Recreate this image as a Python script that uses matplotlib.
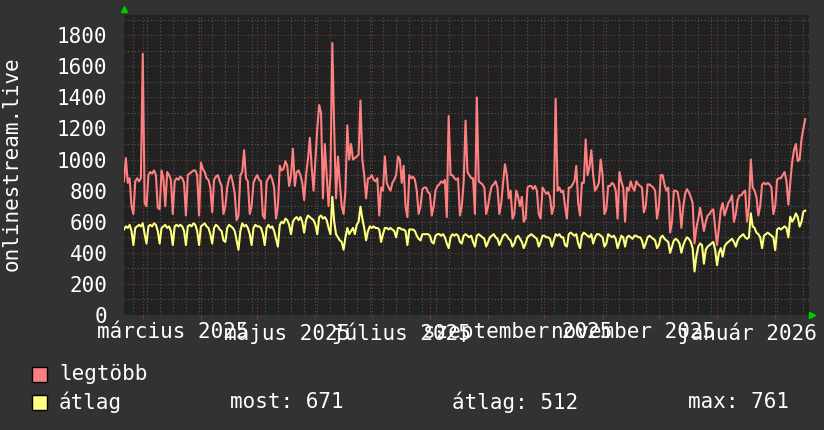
import numpy as np
import pandas as pd
import matplotlib
matplotlib.use("Agg")
import matplotlib.pyplot as plt
import matplotlib.dates as mdates
from matplotlib.patches import Rectangle

# napi adatok, 2025-02-19-tol, hetente egy sor
legtobb = [
    860, 1010, 850, 880, 700, 650, 860,
    880, 860, 880, 1680, 720, 700, 900,
    920, 910, 930, 900, 690, 680, 930,
    880, 700, 920, 900, 870, 650, 860,
    880, 870, 890, 880, 850, 640, 900,
    910, 920, 930, 930, 900, 640, 980,
    940, 920, 880, 870, 820, 660, 870,
    890, 900, 860, 830, 650, 700, 820,
    880, 900, 850, 780, 610, 640, 900,
    920, 1060, 880, 860, 650, 700, 850,
    880, 900, 870, 860, 640, 620, 860,
    880, 900, 870, 820, 620, 700, 960,
    930, 940, 990, 960, 830, 900, 1070,
    830, 920, 930, 900, 850, 740, 900,
    1000, 1140, 950, 800, 1000, 1200, 1350,
    1300, 750, 1100, 900, 700, 900, 1750,
    1200, 750, 1020, 850, 700, 650, 800,
    1220, 1000, 1100, 1000, 1010, 1020, 1030,
    1380, 1000, 900, 750, 880, 880, 900,
    870, 860, 880, 640, 820, 800, 1020,
    850, 820, 800, 850, 870, 900, 1020,
    1000, 850, 960, 700, 630, 900, 880,
    890, 870, 800, 650, 700, 810, 820,
    820, 790, 780, 640, 700, 800, 830,
    840, 860, 850, 870, 630, 1280, 900,
    900, 880, 870, 880, 640, 700, 860,
    1250, 920, 900, 880, 880, 650, 1400,
    860, 850, 840, 820, 650, 700, 780,
    830, 840, 860, 820, 650, 720, 850,
    970, 900, 750, 800, 620, 650, 800,
    760, 700, 760, 600, 620, 820, 830,
    830, 810, 830, 800, 650, 620, 820,
    800, 780, 790, 760, 650, 700, 1390,
    800, 820, 790, 800, 700, 620, 820,
    820, 840, 860, 960, 720, 640, 850,
    850, 1130, 900, 950, 1060, 900, 800,
    820, 850, 1000, 900, 650, 680, 830,
    830, 850, 840, 800, 620, 920, 860,
    820, 600, 820, 800, 860, 820, 800,
    860, 840, 830, 820, 660, 700, 840,
    840, 830, 820, 800, 620, 700, 900,
    900, 840, 800, 820, 530, 600, 800,
    800, 790, 720, 560, 700, 780, 810,
    790, 760, 720, 460, 560, 620, 690,
    620, 540, 600, 640, 650, 670, 680,
    560, 450, 560, 680, 720, 640, 680,
    720, 740, 770, 600, 650, 740, 770,
    770, 790, 800, 600, 700, 1000, 820,
    800, 760, 640, 700, 840, 850, 840,
    850, 840, 820, 650, 700, 870, 880,
    880, 900, 920, 860, 710, 850, 980,
    1060, 1100, 990, 1000, 1130, 1200, 1260,
]

atlag = [
    550, 570, 560, 580, 540, 450, 560,
    570, 580, 570, 590, 520, 460, 570,
    580, 570, 590, 580, 540, 460, 560,
    570, 580, 560, 570, 540, 450, 570,
    580, 570, 580, 570, 540, 450, 570,
    580, 570, 590, 580, 540, 450, 570,
    580, 590, 570, 560, 520, 460, 560,
    580, 570, 550, 540, 480, 470, 560,
    580, 570, 560, 540, 480, 420, 540,
    590, 570, 580, 560, 520, 450, 560,
    580, 570, 570, 560, 520, 450, 560,
    580, 560, 570, 540, 490, 440, 580,
    600, 590, 620, 610, 580, 520, 600,
    620, 630, 610, 630, 600, 530, 610,
    640, 630, 620, 610, 580, 520, 630,
    640, 620, 630, 610, 560, 520, 761,
    600, 520, 500, 480, 470, 420, 500,
    560, 520, 540, 560, 520, 580, 600,
    697, 620, 560, 480, 540, 570, 560,
    570, 560, 560, 550, 470, 520, 560,
    560, 550, 560, 550, 540, 500, 560,
    560, 550, 550, 540, 450, 550, 550,
    550, 540, 510, 490, 480, 520, 520,
    520, 520, 510, 470, 460, 510, 520,
    520, 510, 520, 500, 460, 430, 500,
    520, 510, 520, 510, 470, 460, 510,
    520, 510, 500, 510, 470, 440, 510,
    520, 510, 500, 490, 440, 470, 500,
    510, 520, 500, 490, 450, 480, 510,
    520, 510, 490, 480, 440, 460, 500,
    510, 490, 470, 430, 460, 500, 510,
    520, 510, 500, 490, 440, 470, 510,
    510, 500, 500, 490, 440, 480, 520,
    510, 520, 500, 500, 450, 440, 520,
    530, 520, 510, 520, 460, 430, 510,
    530, 520, 510, 500, 520, 460, 500,
    520, 520, 510, 500, 440, 460, 520,
    510, 500, 510, 490, 430, 470, 510,
    500, 440, 500, 510, 500, 490, 510,
    510, 500, 500, 480, 430, 460, 500,
    510, 500, 490, 480, 430, 450, 500,
    510, 490, 480, 470, 400, 440, 480,
    490, 480, 460, 400, 450, 480, 500,
    490, 470, 430, 280, 380, 440, 460,
    450, 330, 420, 440, 450, 460, 470,
    420, 320, 400, 430, 375, 440, 460,
    470, 480, 490, 470, 440, 480, 500,
    510, 520, 500, 490, 500, 654, 570,
    560, 530, 520, 500, 430, 510, 520,
    530, 520, 510, 500, 418, 550, 560,
    550, 560, 570, 560, 500, 632, 600,
    620, 654, 630, 568, 600, 665, 671,
]

honap_cimkek = ["március 2025", "május 2025", "július 2025",
                "szeptember 2025", "november 2025", "január 2026"]
honap_datumok = ["2025-03-01", "2025-05-01", "2025-07-01",
                 "2025-09-01", "2025-11-01", "2026-01-01"]

napok = pd.date_range("2025-02-19", periods=len(legtobb), freq="D")

plt.rcParams["font.family"] = ["DejaVu Sans Mono"]
plt.rcParams["font.size"] = 15

hatter = "#323232"
vaszon = "#212121"
piros = "#ff8080"
sarga = "#ffff80"

fig = plt.figure(figsize=(8.24, 4.30), dpi=100, facecolor=hatter)
ax = fig.add_axes([124 / 824, 115 / 430, 685 / 824, 300 / 430])
ax.set_facecolor(vaszon)

ax.plot(napok, legtobb, color=piros, lw=1.5, zorder=3)
ax.plot(napok, atlag, color=sarga, lw=1.5, zorder=4)

ax.set_xlim(pd.Timestamp("2025-02-19"), pd.Timestamp("2026-02-19"))
ax.set_ylim(0, 1930)

# racs
ax.yaxis.set_major_locator(plt.MultipleLocator(200))
ax.yaxis.set_minor_locator(plt.MultipleLocator(100))
ax.xaxis.set_major_locator(mdates.MonthLocator())
ax.xaxis.set_minor_locator(mdates.WeekdayLocator(byweekday=mdates.MO))
ax.grid(which="minor", color="#575757", lw=0.8, ls=(0, (1, 2)), zorder=1)
ax.grid(which="major", color="#7a3a3a", lw=0.8, ls=(0, (1, 2)), zorder=2)

ax.tick_params(axis="y", which="major", colors="white", length=0, pad=12,
               labelsize=15)
ax.tick_params(axis="y", which="minor", length=0)
ax.tick_params(axis="x", which="major", length=3, color="#7a3a3a",
               labelbottom=False)
ax.tick_params(axis="x", which="minor", length=0)
for s in ax.spines.values():
    s.set_visible(False)

# honap cimkek (a honap kozepe fele)
for d, t in zip(honap_datumok, honap_cimkek):
    ax.text(pd.Timestamp(d) + pd.Timedelta(days=16), -0.025, t,
            transform=ax.get_xaxis_transform(), ha="center", va="top",
            color="white", fontsize=15, clip_on=False)

# nyilak
ax.plot([0], [1.02], marker="^", color="#00cc00", ms=5,
        transform=ax.transAxes, clip_on=False)
ax.plot([1.005], [0], marker=">", color="#00cc00", ms=5,
        transform=ax.transAxes, clip_on=False)

fig.text(12 / 824, 1 - 164 / 430, "onlinestream.live", rotation=90,
         ha="center", va="center", color="white", fontsize=15)

# jelmagyarazat
for y, c, t in [(374, piros, "legtöbb"), (402, sarga, "átlag")]:
    fig.add_artist(Rectangle((32 / 824, 1 - (y + 7.5) / 430), 15 / 824, 15 / 430,
                             transform=fig.transFigure, facecolor=c,
                             edgecolor="black", lw=1))
    fig.text(59 / 824, 1 - y / 430, t, ha="left", va="center",
             color="white", fontsize=15)

fig.text(230 / 824, 1 - 402 / 430, "most: 671", ha="left", va="center",
         color="white", fontsize=15)
fig.text(452 / 824, 1 - 402 / 430, "átlag: 512", ha="left", va="center",
         color="white", fontsize=15)
fig.text(688 / 824, 1 - 402 / 430, "max: 761", ha="left", va="center",
         color="white", fontsize=15)

plt.savefig("out.png", dpi=100, facecolor=hatter)
